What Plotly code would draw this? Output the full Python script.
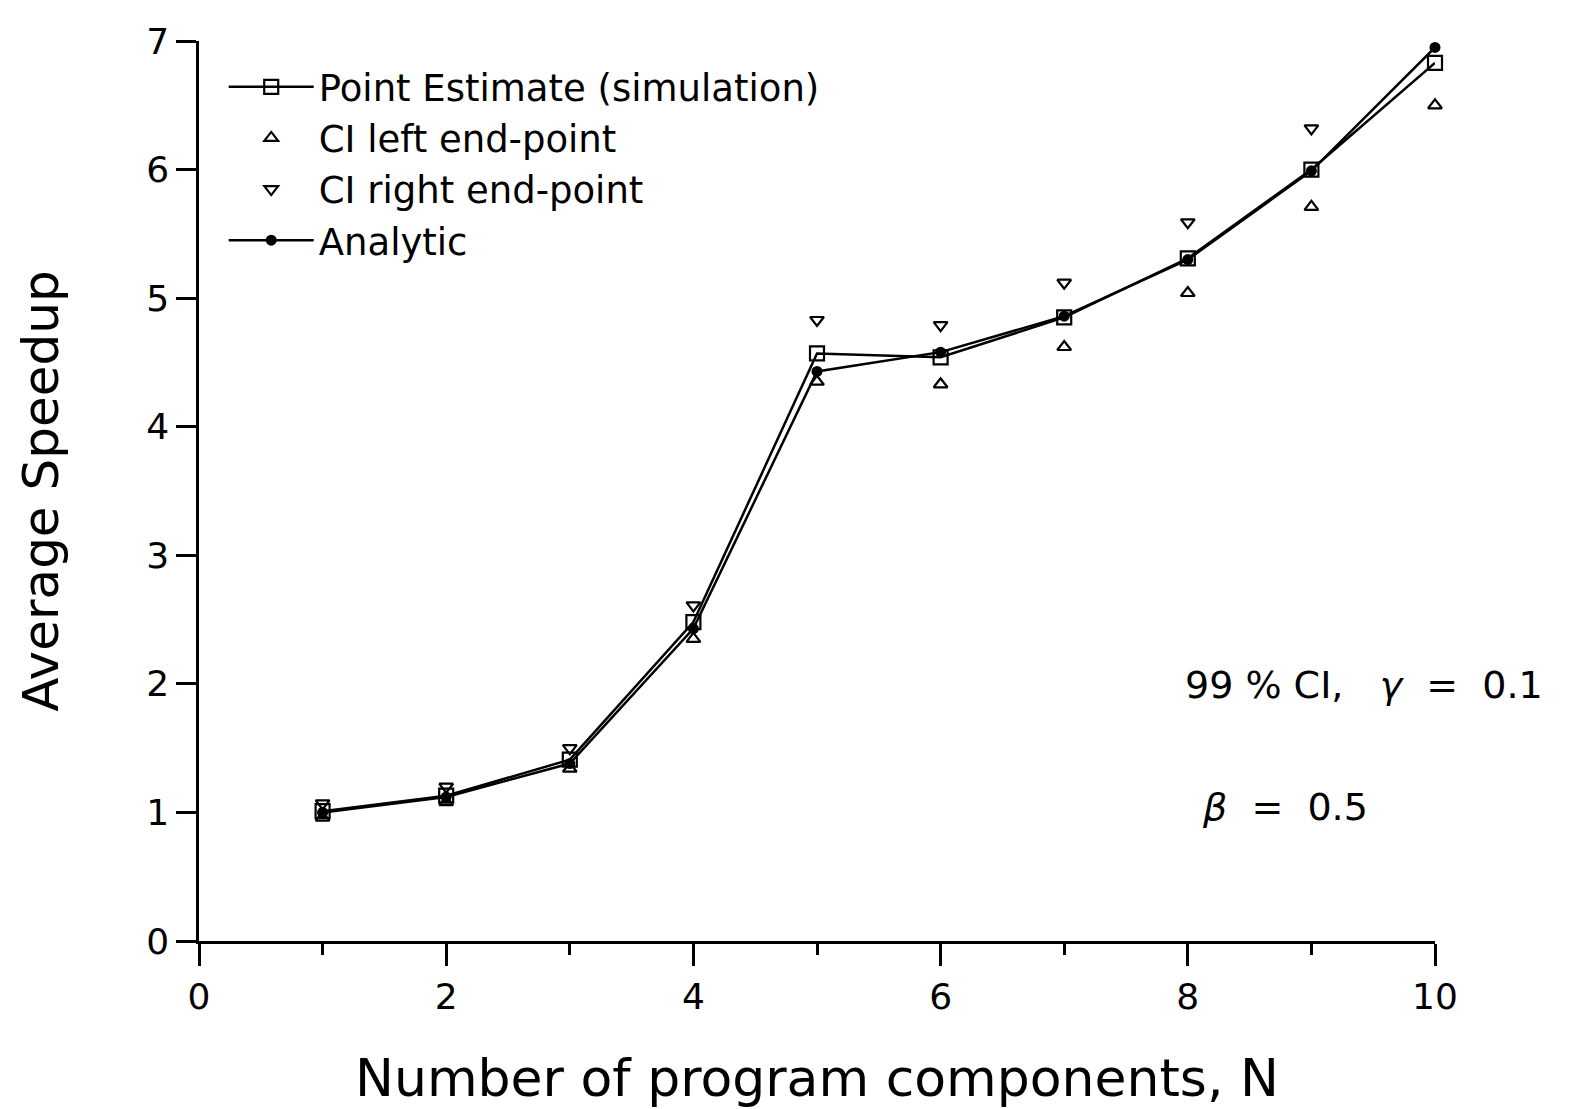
import plotly.graph_objects as go

# Number of program components
n_components = [1, 2, 3, 4, 5, 6, 7, 8, 9, 10]

# Average speedup: simulation point estimate, 99% CI end-points, analytic result
point_estimate = [1.01, 1.13, 1.41, 2.48, 4.57, 4.54, 4.85, 5.31, 6.00, 6.83]
ci_left = [0.96, 1.08, 1.34, 2.35, 4.35, 4.33, 4.62, 5.04, 5.71, 6.50]
ci_right = [1.07, 1.20, 1.50, 2.61, 4.83, 4.79, 5.12, 5.59, 6.32, 7.20]
analytic = [1.00, 1.12, 1.38, 2.43, 4.43, 4.58, 4.86, 5.30, 5.99, 6.95]

x_ticks = [0, 2, 4, 6, 8, 10]
y_ticks = [0, 1, 2, 3, 4, 5, 6, 7]

FONT = "DejaVu Sans"
BLACK = "#000000"
NBSP = "\u00a0"

fig = go.Figure()

fig.add_trace(go.Scatter(
    x=n_components, y=point_estimate, mode="lines+markers",
    name="Point Estimate (simulation)",
    line=dict(color=BLACK, width=2.5),
    marker=dict(symbol="square-open", size=14, color=BLACK, line=dict(width=2.2)),
    cliponaxis=False,
))
fig.add_trace(go.Scatter(
    x=n_components, y=ci_left, mode="markers",
    name="CI left end-point",
    marker=dict(symbol="triangle-up-open", size=12, color=BLACK, line=dict(width=2.2)),
    cliponaxis=False,
))
fig.add_trace(go.Scatter(
    x=n_components, y=ci_right, mode="markers",
    name="CI right end-point",
    marker=dict(symbol="triangle-down-open", size=12, color=BLACK, line=dict(width=2.2)),
    cliponaxis=False,
))
fig.add_trace(go.Scatter(
    x=n_components, y=analytic, mode="lines+markers",
    name="Analytic",
    line=dict(color=BLACK, width=2.5),
    marker=dict(symbol="circle", size=11, color=BLACK),
    cliponaxis=False,
))

sp1 = NBSP
sp2 = NBSP * 2
sp3 = NBSP * 3
fig.add_annotation(
    x=1.0, y=0.285, xref="paper", yref="paper", xanchor="left", yanchor="middle",
    text=f"99{sp1}%{sp1}CI,{sp3}<i>γ</i>{sp2}={sp2}0.1", showarrow=False, xshift=-252,
    font=dict(family=FONT, size=38, color=BLACK),
)
fig.add_annotation(
    x=1.0, y=0.149, xref="paper", yref="paper", xanchor="left", yanchor="middle",
    text=f"<i>β</i>{sp2}={sp2}0.5", showarrow=False, xshift=-235,
    font=dict(family=FONT, size=38, color=BLACK),
)

fig.update_layout(
    width=1569, height=1109,
    margin=dict(l=199, r=134, t=41, b=165),
    paper_bgcolor="white", plot_bgcolor="white",
    font=dict(family=FONT, color=BLACK, size=36),
    showlegend=True,
    legend=dict(
        x=0.02, y=0.983, xanchor="left", yanchor="top",
        bgcolor="rgba(0,0,0,0)", borderwidth=0,
        font=dict(family=FONT, size=37, color=BLACK),
        itemwidth=85, tracegroupgap=0,
    ),
    xaxis=dict(
        range=[0, 10], tickvals=x_ticks, ticktext=[str(v) for v in x_ticks],
        showline=True, linecolor=BLACK, linewidth=2.5, mirror=False,
        ticks="outside", ticklen=22, tickwidth=2.5, tickcolor=BLACK,
        minor=dict(tickvals=[1, 3, 5, 7, 9], ticks="outside", ticklen=11,
                   tickwidth=2.5, tickcolor=BLACK),
        showgrid=False, zeroline=False,
        tickfont=dict(family=FONT, size=36, color=BLACK),
        title=dict(text="Number of program components, N", standoff=44,
                   font=dict(family=FONT, size=52, color=BLACK)),
    ),
    yaxis=dict(
        range=[0, 7], tickvals=y_ticks, ticktext=[str(v) for v in y_ticks],
        showline=True, linecolor=BLACK, linewidth=2.5, mirror=False,
        ticks="outside", ticklen=20, tickwidth=2.5, tickcolor=BLACK,
        showgrid=False, zeroline=False,
        tickfont=dict(family=FONT, size=36, color=BLACK),
        title=dict(text="Average Speedup", standoff=72,
                   font=dict(family=FONT, size=50, color=BLACK)),
    ),
)

fig.write_html("out.html")
